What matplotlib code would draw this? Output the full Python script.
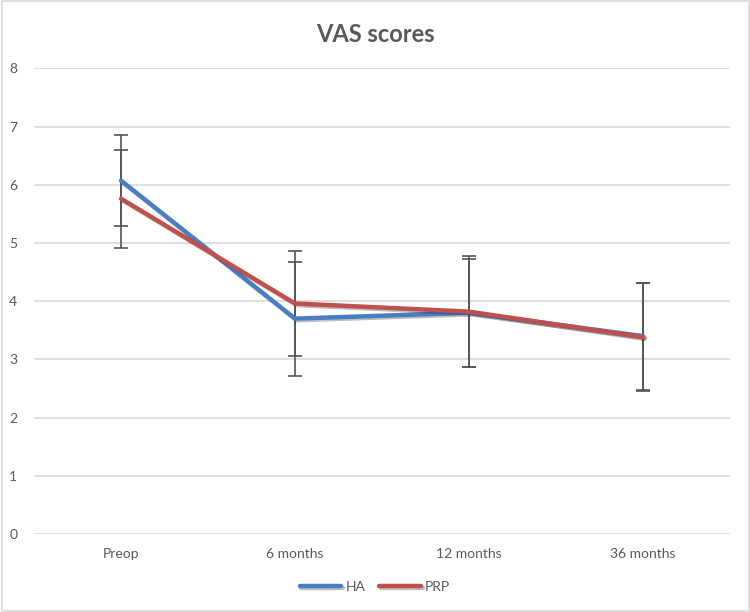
import matplotlib
matplotlib.use("Agg")
import matplotlib.pyplot as plt
import matplotlib.patheffects as pe
from matplotlib.patches import Rectangle

categories = ["Preop", "6 months", "12 months", "36 months"]
ha_values = [6.07, 3.70, 3.80, 3.40]
ha_err = [0.78, 0.98, 0.93, 0.92]
prp_values = [5.76, 3.96, 3.82, 3.38]
prp_err = [0.84, 0.91, 0.95, 0.93]
yticks = [0, 1, 2, 3, 4, 5, 6, 7, 8]

plt.rcParams['font.family'] = ['Lato', 'DejaVu Sans']

fig = plt.figure(figsize=(7.5, 6.12), dpi=100)
fig.patches.append(Rectangle((0.002, 0.002), 0.996, 0.996, transform=fig.transFigure,
                             fill=False, edgecolor='#d9d9d9', linewidth=1.2))
ax = fig.add_axes([34/750, 1-534/612, (730-34)/750, (534-68.3)/612])

x = list(range(len(categories)))
shadow = [pe.SimpleLineShadow(offset=(1.2, -1.2), alpha=0.25, shadow_color='black'), pe.Normal()]

ax.errorbar(x, ha_values, yerr=ha_err, fmt='none', ecolor='#555555', elinewidth=1.2,
            capsize=5, capthick=1.2, zorder=2)
ax.errorbar(x, prp_values, yerr=prp_err, fmt='none', ecolor='#555555', elinewidth=1.2,
            capsize=5, capthick=1.2, zorder=2)
ax.plot(x, ha_values, color='#4a7ec4', lw=3.2, label='HA', zorder=3,
        solid_capstyle='round', path_effects=shadow)
ax.plot(x, prp_values, color='#c0504d', lw=3.2, label='PRP', zorder=4,
        solid_capstyle='round', path_effects=shadow)

ax.set_xlim(-0.5, len(categories) - 0.5)
ax.set_ylim(0, 8)
ax.set_yticks(yticks)
ax.set_xticks(x)
ax.set_xticklabels(categories)
ax.yaxis.grid(True, color='#d9d9d9', linewidth=1.2)
ax.set_axisbelow(True)
for s in ax.spines.values():
    s.set_visible(False)
ax.tick_params(axis='both', length=0, colors='#595959', labelsize=10)
ax.tick_params(axis='y', pad=12)
ax.tick_params(axis='x', pad=10)

fig.text(0.5, 1-35/612, "VAS scores", ha='center', va='center', fontsize=17,
         fontweight='bold', color='#595959')

leg = fig.legend(loc='center', bbox_to_anchor=(0.5, 1-587/612), ncol=2, frameon=False,
                 fontsize=10, handlelength=3.0, handletextpad=0.3, columnspacing=1.0)
for t in leg.get_texts():
    t.set_color('#595959')
for h in leg.get_lines():
    h.set_linewidth(3.2)
    h.set_solid_capstyle('round')

fig.savefig("out.png", dpi=100, facecolor='white')
